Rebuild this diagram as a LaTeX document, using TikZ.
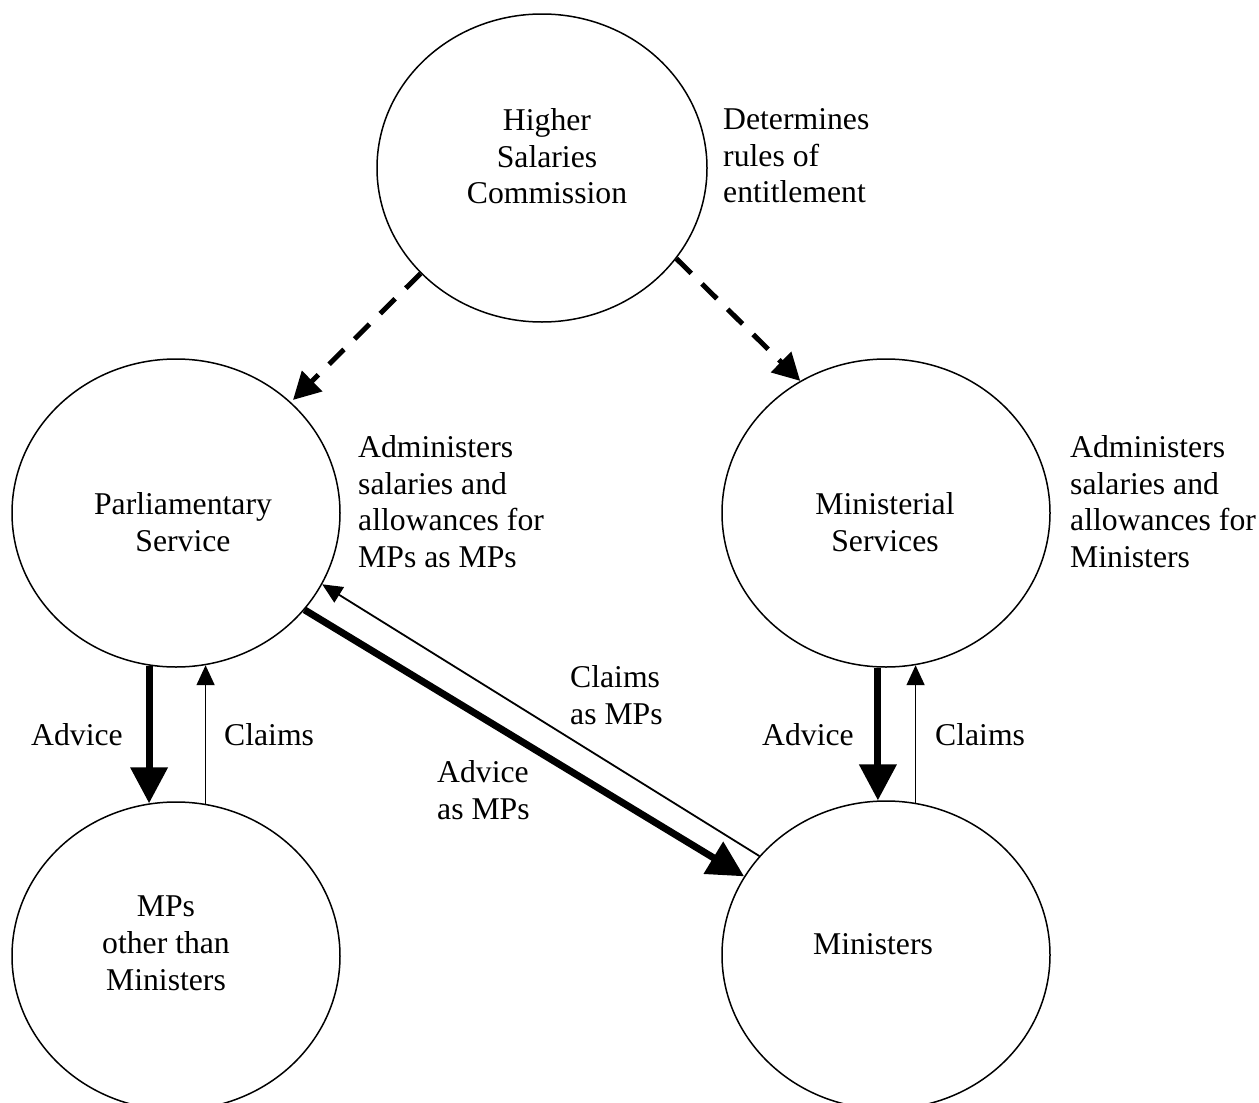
\documentclass[tikz,border=0pt]{standalone}
\usepackage{fontspec}
\setmainfont{Liberation Serif}
\usetikzlibrary{shapes.geometric,arrows.meta}
\begin{document}
\begin{tikzpicture}[x=1pt,y=-1pt,
  blob/.style={draw,ellipse,line width=1.5pt,minimum width=328pt,minimum height=308pt,inner sep=0pt},
  txt/.style={inner sep=0pt,font=\fontsize{31.7}{36.6}\selectfont},
  ctxt/.style={txt,align=center,anchor=north},
  ltxt/.style={txt,align=left,anchor=north west},
  dasharrow/.style={line width=5pt,dash pattern=on 21pt off 15pt,-{Triangle[length=27pt,width=28pt]}},
  thickarrow/.style={line width=7pt,-{Triangle[length=36pt,width=36pt]}},
  thinarrow/.style={line width=1.8pt,-{Triangle[length=20pt,width=18pt]}}]
\useasboundingbox (0,0) rectangle (1259,1103);
\clip (0,0) rectangle (1259,1103);
% circles
\node[blob,minimum width=330pt] (hsc) at (542,168) {};
\node[blob] (ps) at (176,513) {};
\node[blob] (ms) at (886,513) {};
\node[blob] (mpo) at (176,956) {};
\node[blob] (min) at (886,955) {};
% texts
\node[ctxt] (hsct) at (547,108.3) {Higher\\Salaries\\Commission};
\node[ltxt] (det) at (723,108.3) {Determines\\rules of\\entitlement};
\node[ctxt] (pst) at (183,492.3) {Parliamentary\\Service};
\node[ctxt] (mst) at (885,492.3) {Ministerial\\Services};
\node[ctxt] (mpot) at (166,896) {MPs\\other than\\Ministers};
\node[ctxt] (mint) at (873,933.3) {Ministers};
\node[ltxt] (admL) at (358,435.3) {Administers\\salaries and\\allowances for\\MPs as MPs};
\node[ltxt] (admR) at (1070,435.3) {Administers\\salaries and\\allowances for\\Ministers};
\node[ltxt] (advL) at (31,723.3) {Advice};
\node[ltxt] (clL) at (224,723.3) {Claims};
\node[ltxt] (advR) at (762,723.3) {Advice};
\node[ltxt] (clR) at (935,723.3) {Claims};
\node[ltxt] (clMP) at (570,665.3) {Claims\\as MPs};
\node[ltxt] (advMP) at (437,760.3) {Advice\\as MPs};
% connectors
\draw[dasharrow,shorten >=3pt] (hsc.221) -- (ps.44);
\draw[dasharrow] (hsc.-34) -- (ms.123);
\draw[thickarrow] (ps.-100.8) -- (mpo.100.8);
\draw[thinarrow] (mpo.79.3) -- (ps.-79.3);
\draw[thickarrow] (ms.-93.3) -- (min.93.3);
\draw[thinarrow] (min.79.3) -- (ms.-79.3);
\draw[thickarrow] (ps.-37) -- (min.151.6);
\draw[thinarrow] (min.142.4) -- (ps.-26.9);
\end{tikzpicture}
\end{document}
